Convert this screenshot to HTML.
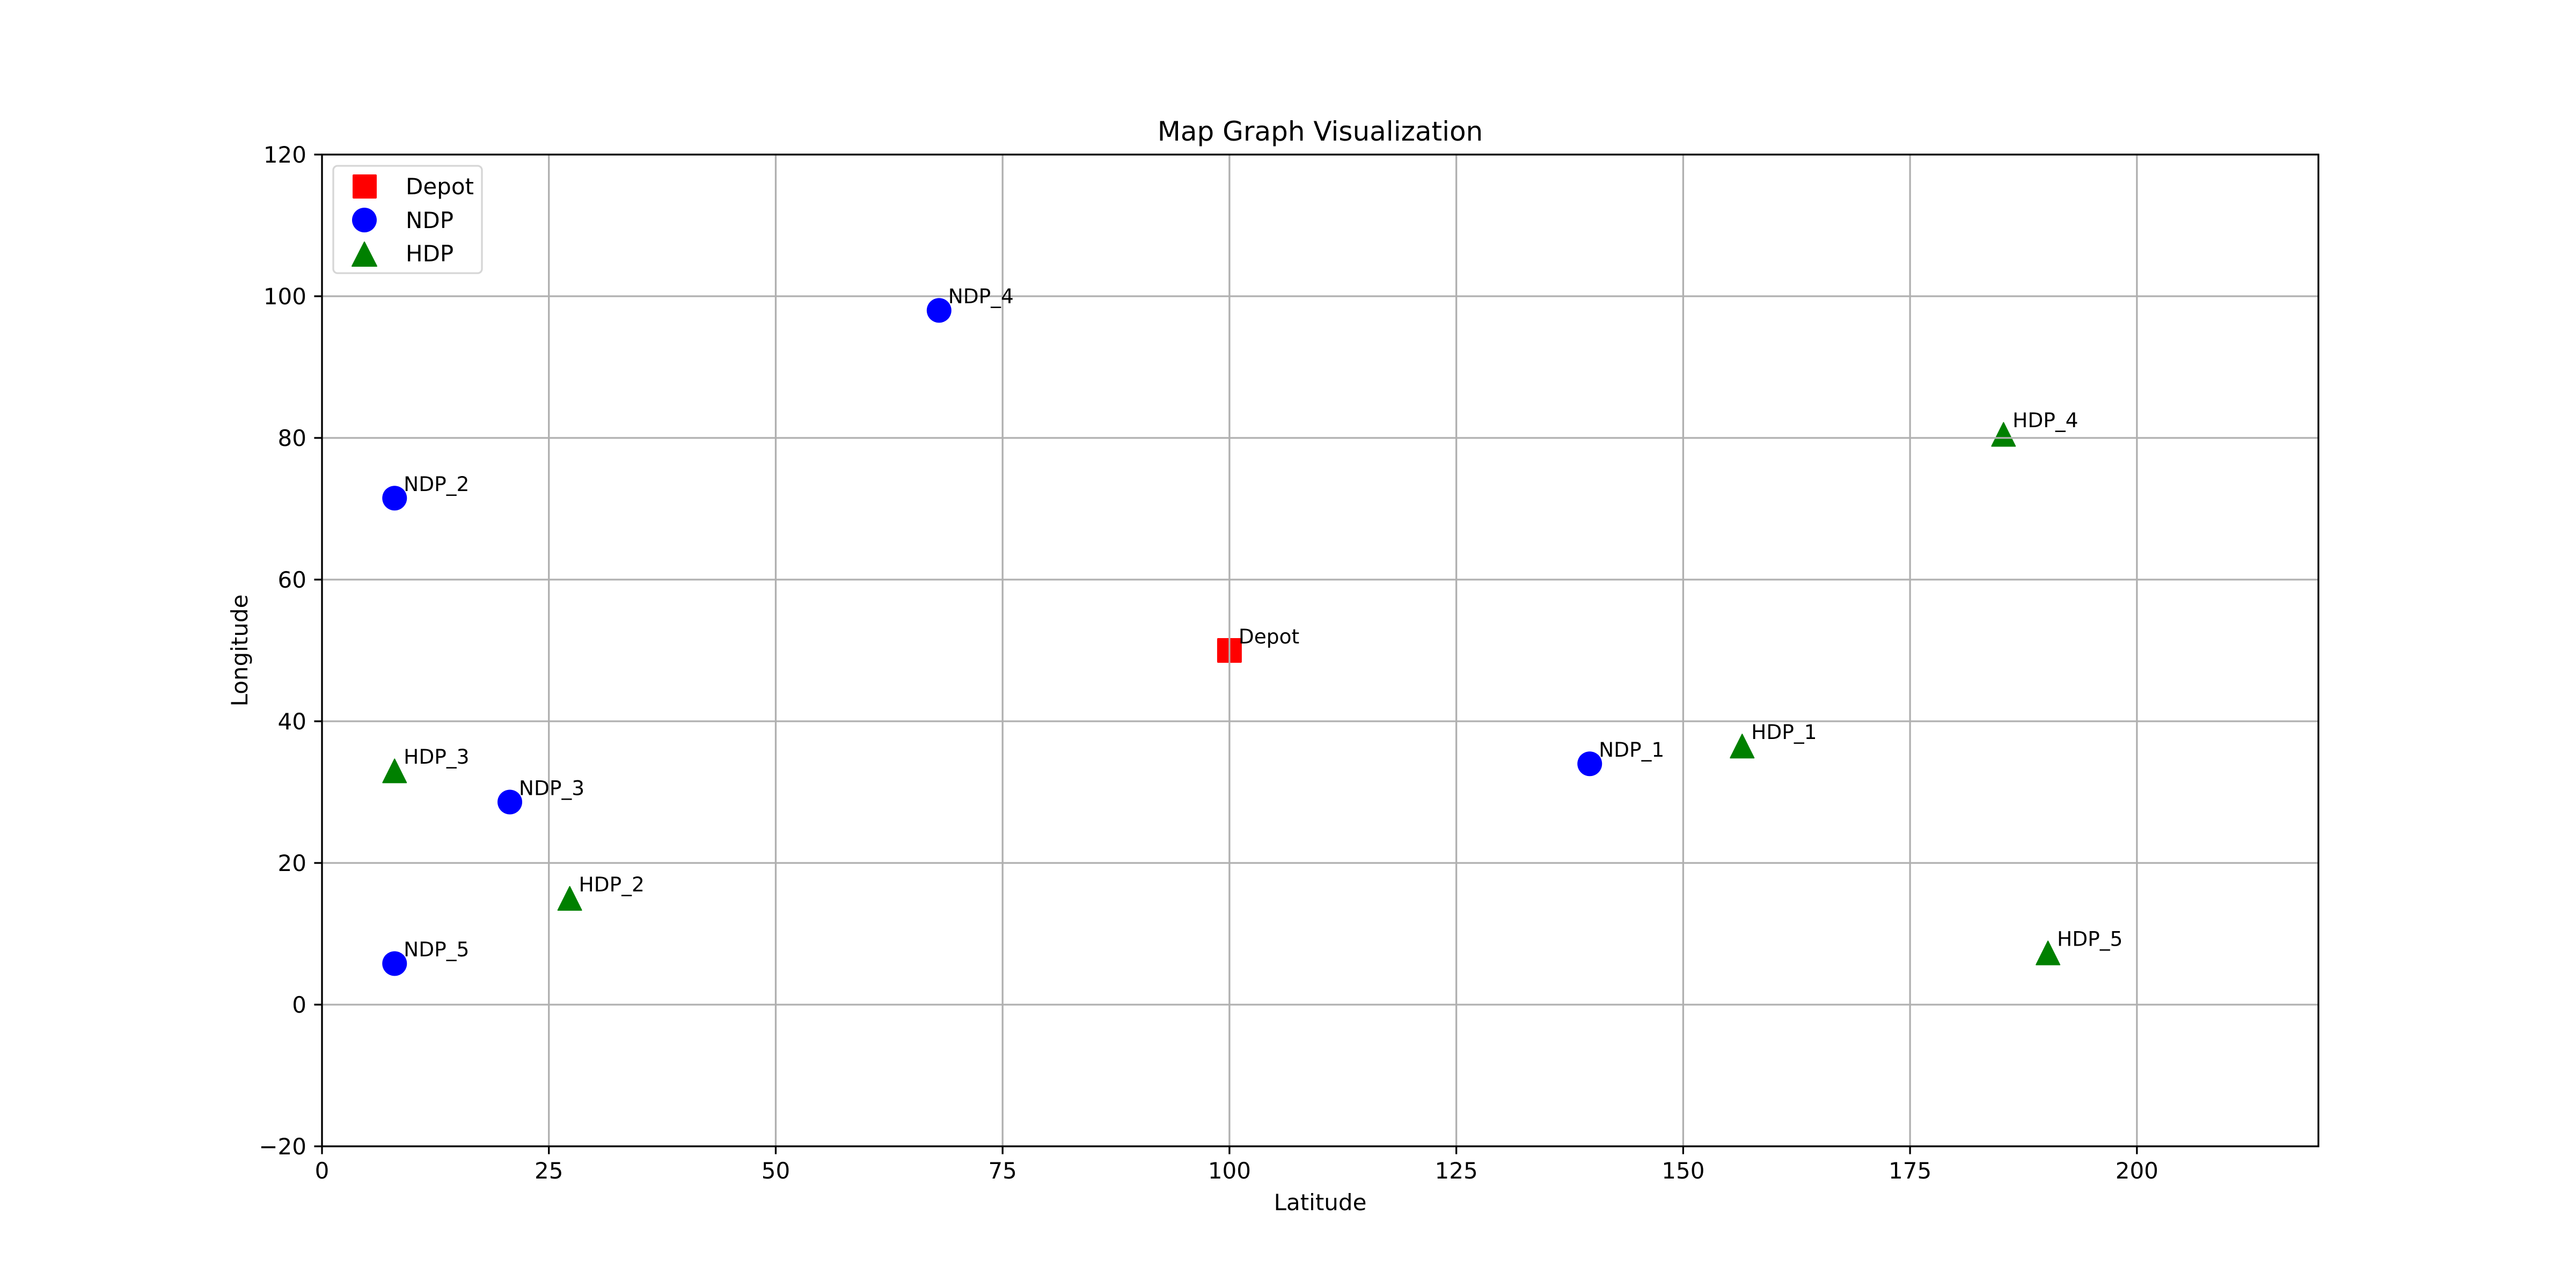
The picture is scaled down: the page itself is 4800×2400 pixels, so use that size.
<!DOCTYPE html>
<html><head><meta charset="utf-8"><style>
html,body{margin:0;padding:0;background:#fff;}
svg{display:block;font-family:"DejaVu Sans","Liberation Sans",sans-serif;}
</style></head><body>
<svg id="chart" width="4800" height="2400" viewBox="0 0 4800 2400" xmlns="http://www.w3.org/2000/svg">
<rect width="4800" height="2400" fill="#fff"/>
<g id="marks"></g>
<g id="grid"></g>
<g id="labels"></g>
<rect x="600" y="288" width="3720" height="1848" fill="none" stroke="#000" stroke-width="3.3"/>
<g id="ticks"></g>
<text x="2460" y="262" font-size="50" text-anchor="middle">Map Graph Visualization</text>
<text x="2460" y="2255" font-size="42" text-anchor="middle">Latitude</text>
<text x="0" y="0" font-size="42" text-anchor="middle" transform="translate(461,1212) rotate(-90)">Longitude</text>
<g>
<rect x="621" y="309" width="277" height="200" rx="8" fill="#fff" fill-opacity="0.8" stroke="#d6d6d6" stroke-width="3.3"/>
<rect x="657" y="325" width="45" height="45" rx="2" fill="#ff0000"/>
<text x="756" y="362" font-size="42">Depot</text>
<circle cx="679" cy="410" r="23" fill="#0000ff"/>
<text x="756" y="425" font-size="42">NDP</text>
<polygon points="679,451 702,496 656,496" fill="#008000" stroke="#008000" stroke-width="2" stroke-linejoin="round"/>
<text x="756" y="487" font-size="42">HDP</text>
</g>
</svg>
<script>
const depotX = [100];
const depotY = [50];
const ndpNames = ["NDP_1","NDP_2","NDP_3","NDP_4","NDP_5"];
const ndpX = [139.7, 8, 20.7, 68, 8];
const ndpY = [34, 71.5, 28.6, 98, 5.8];
const hdpNames = ["HDP_1","HDP_2","HDP_3","HDP_4","HDP_5"];
const hdpX = [156.5, 27.3, 8, 185.3, 190.2];
const hdpY = [36.5, 15, 33, 80.5, 7.3];
const xTicks = [0,25,50,75,100,125,150,175,200];
const yTicks = [-20,0,20,40,60,80,100,120];

const NS = "http://www.w3.org/2000/svg";
const L=600,R=4320,T=288,B=2136,X0=0,X1=220,Y0=-20,Y1=120;
function sx(v){return L+(v-X0)/(X1-X0)*(R-L);}
function sy(v){return B-(v-Y0)/(Y1-Y0)*(B-T);}
function mk(tag,attrs,parent){const e=document.createElementNS(NS,tag);for(const k in attrs)e.setAttribute(k,attrs[k]);parent.appendChild(e);return e;}
const marks=document.getElementById('marks'),grid=document.getElementById('grid'),labels=document.getElementById('labels'),ticks=document.getElementById('ticks');

xTicks.forEach(t=>{
  const x=sx(t);
  const g=mk('line',{x1:x,x2:x,y1:T,y2:B,stroke:'#b0b0b0','stroke-width':3.3},grid);
  
  
  const tk=mk('line',{x1:x,x2:x,y1:B,y2:B+14.6,stroke:'#000','stroke-width':3.3},ticks);
  
  
  const tl=mk('text',{x:x,y:2196,'font-size':42,'text-anchor':'middle'},ticks);
  tl.textContent=String(t);
  
  
});
yTicks.forEach(t=>{
  const y=sy(t);
  const g=mk('line',{x1:L,x2:R,y1:y,y2:y,stroke:'#b0b0b0','stroke-width':3.3},grid);
  
  
  const tk=mk('line',{x1:L-14.6,x2:L,y1:y,y2:y,stroke:'#000','stroke-width':3.3},ticks);
  
  
  const tl=mk('text',{x:571,y:y+15,'font-size':42,'text-anchor':'end'},ticks);
  tl.textContent=(t<0?'\u2212'+Math.abs(t):String(t));
  
  
});
function addLabel(name,x,y){
  const t=mk('text',{x:sx(x+1),y:sy(y+1),'font-size':37.5},labels);
  t.textContent=name;
  
  
}
depotX.forEach((x,i)=>{
  const r=mk('rect',{x:sx(x)-23,y:sy(depotY[i])-23,width:46,height:46,rx:2,fill:'#ff0000'},marks);
  
  
  addLabel('Depot',x,depotY[i]);
});
ndpX.forEach((x,i)=>{
  const c=mk('circle',{cx:sx(x),cy:sy(ndpY[i]),r:23,fill:'#0000ff'},marks);
  
  
  addLabel(ndpNames[i],x,ndpY[i]);
});
hdpX.forEach((x,i)=>{
  const cx=sx(x),cy=sy(hdpY[i]);
  const p=mk('polygon',{points:`${cx},${cy-22} ${cx+22},${cy+22} ${cx-22},${cy+22}`,fill:'#008000',stroke:'#008000','stroke-width':2,'stroke-linejoin':'round'},marks);
  
  
  addLabel(hdpNames[i],x,hdpY[i]);
});
</script>
</body></html>
